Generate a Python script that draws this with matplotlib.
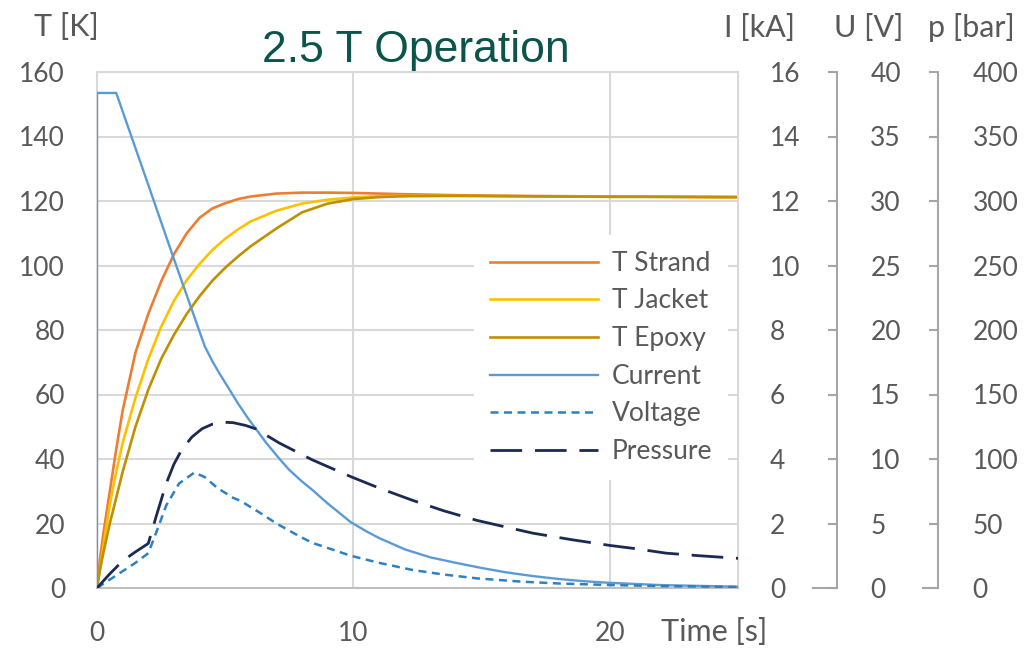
import matplotlib.pyplot as plt
from matplotlib.lines import Line2D

# 时间轴 [s]
t_temp = [0, 0.1, 0.25, 0.5, 0.75, 1.0, 1.5, 2.0, 2.5, 3.0, 3.5, 4.0, 4.5, 5.0,
          5.5, 6.0, 7.0, 8.0, 9.0, 10, 11, 12, 14, 16, 18, 20, 22, 25]
# 温度 [K]
T_strand = [0, 8, 17, 30, 43, 55, 73, 85, 95, 103.5, 110, 114.8, 117.7, 119.3,
            120.6, 121.4, 122.3, 122.6, 122.6, 122.5, 122.3, 122.1, 121.8, 121.6,
            121.5, 121.4, 121.3, 121.2]
T_jacket = [0, 5, 13, 26, 36, 45, 59, 71, 81, 89, 95.5, 100.5, 104.8, 108.3,
            111.2, 113.7, 117, 119.2, 120.4, 121.1, 121.5, 121.6, 121.6, 121.5,
            121.4, 121.3, 121.3, 121.2]
T_epoxy = [0, 5, 11, 20, 28, 36, 50, 61.5, 71, 78.5, 85, 90.5, 95.3, 99.3,
           102.8, 106, 111.5, 116.5, 119.2, 120.6, 121.2, 121.5, 121.6, 121.5,
           121.4, 121.3, 121.3, 121.2]

# 电流 [kA]
t_current = [0, 0, 0.75, 2.0, 3.0, 3.6, 4.2, 4.5, 4.8, 5.1, 5.5, 5.9, 6.2, 6.6,
             7.1, 7.5, 8.0, 8.4, 9.0, 9.9, 10.5, 11, 12, 13, 14, 15, 16, 17, 18,
             19, 20, 22, 25]
current = [0, 15.35, 15.35, 12.5, 10.2, 8.85, 7.5, 7.03, 6.62, 6.24, 5.72, 5.25,
           4.93, 4.5, 4.02, 3.66, 3.3, 3.04, 2.62, 2.04, 1.76, 1.55, 1.2, 0.95,
           0.78, 0.62, 0.48, 0.37, 0.28, 0.21, 0.16, 0.09, 0.04]

# 电压 [V]
t_volt = [0, 0.5, 1.0, 1.5, 2.0, 2.3, 2.7, 3.2, 3.8, 4.2, 4.7, 5.3, 5.6, 6.3,
          7.0, 7.9, 8.4, 9.9, 11, 12.3, 13.5, 14.8, 16.5, 18, 20, 22, 25]
voltage = [0, 0.65, 1.3, 1.95, 2.7, 4.25, 6.4, 8.1, 8.95, 8.6, 7.75, 7.0, 6.75,
           5.9, 5.0, 4.0, 3.5, 2.5, 1.95, 1.4, 1.05, 0.75, 0.5, 0.35, 0.23, 0.15,
           0.08]

# 压力 [bar]
t_press = [0, 0.5, 1.0, 1.5, 2.0, 2.3, 2.7, 3.0, 3.3, 3.7, 4.1, 4.5, 4.9, 5.3,
           5.8, 6.2, 7.1, 8.4, 9.9, 11, 12.3, 13.5, 14.8, 16, 17, 18.5, 20, 21,
           22.2, 23.5, 25]
pressure = [0, 11, 21, 28, 34.5, 55, 81, 96, 107, 117, 123.5, 127, 128.5, 128.2,
            126, 123.3, 112.5, 99.3, 86.3, 77.5, 68, 60, 52.5, 47, 42.5, 37.5,
            33, 30.5, 27, 25, 23]

plt.rcParams['font.family'] = ['Lato', 'DejaVu Sans']
grey = '#595959'
fs = 19

fig = plt.figure(figsize=(10.3, 6.48), dpi=100)
ax = fig.add_axes([97 / 1030, 60 / 648, 641 / 1030, 516 / 648])

ax.plot(t_temp, T_strand, color='#ED7D31', lw=1.9, label='T Strand')
ax.plot(t_temp, T_jacket, color='#FFC000', lw=1.9, label='T Jacket')
ax.plot(t_temp, T_epoxy, color='#BF9000', lw=1.9, label='T Epoxy')

ax.set_xlim(0, 25)
ax.set_ylim(0, 160)
ax.set_xticks([0, 10, 20])
ax.set_yticks(range(0, 161, 20))
ax.grid(True, color='#d9d9d9', lw=1.5)
ax.set_axisbelow(True)
ax.tick_params(axis='both', length=0, labelsize=fs, labelcolor=grey)
ax.tick_params(axis='y', pad=23)
ax.tick_params(axis='x', pad=24)
for s in ['top', 'right', 'left']:
    ax.spines[s].set_color('#d9d9d9')
    ax.spines[s].set_linewidth(1.5)
ax.spines['bottom'].set_color('#bfbfbf')
ax.spines['bottom'].set_linewidth(1.5)

# 右侧三个副轴
ax_i = ax.twinx()
ax_u = ax.twinx()
ax_p = ax.twinx()
for a in (ax_i, ax_u, ax_p):
    for s in ['top', 'left', 'bottom']:
        a.spines[s].set_visible(False)
ax_i.spines['right'].set_visible(False)

ax_i.plot(t_current, current, color='#5B9BD5', lw=1.7, label='Current')
ax_i.set_ylim(0, 16)
ax_i.set_yticks(range(0, 17, 2))
ax_i.tick_params(axis='y', length=0, pad=23, labelsize=fs, labelcolor=grey)

ax_u.plot(t_volt, voltage, color='#2E80C0', lw=1.8, dashes=(3.2, 2.2),
          label='Voltage')
ax_u.set_ylim(0, 40)
ax_u.set_yticks(range(0, 41, 5))
ax_u.spines['right'].set_position(('axes', (837 - 97) / 641))

ax_p.plot(t_press, pressure, color='#1B2A55', lw=2.0, dashes=(11.4, 4.6),
          label='Pressure')
ax_p.set_ylim(0, 400)
ax_p.set_yticks(range(0, 401, 50))
ax_p.spines['right'].set_position(('axes', (938 - 97) / 641))

for a, pad in ((ax_u, 24), (ax_p, 25)):
    a.spines['right'].set_color('#a6a6a6')
    a.spines['right'].set_linewidth(1.5)
    a.tick_params(axis='y', direction='in', length=6.5, width=1.5,
                  color='#a6a6a6', pad=pad, labelsize=fs, labelcolor=grey)

# 副轴底部的短横线
for x0, x1 in ((813, 837), (923, 938)):
    fig.add_artist(Line2D([x0 / 1030, x1 / 1030], [60 / 648, 60 / 648],
                          color='#a6a6a6', lw=1.5))

# 轴标题
labels = [('T [K]', 66, 27), ('I [kA]', 760, 28), ('U [V]', 869, 28),
          ('p [bar]', 971, 28), ('Time [s]', 714, 632)]
for txt, x, y in labels:
    fig.text(x / 1030, 1 - y / 648, txt, ha='center', va='center',
             fontsize=22, color=grey)

fig.text(416 / 1030, 1 - 62 / 648, '2.5 T Operation', ha='center',
         va='baseline', fontsize=32, family='Liberation Sans', color='#0b544a')

handles = []
for a in (ax, ax_i, ax_u, ax_p):
    h, _ = a.get_legend_handles_labels()
    handles += h
leg = ax_p.legend(handles=handles, loc='upper left',
                  bbox_to_anchor=(474 / 1030, 1 - 235 / 648),
                  bbox_transform=fig.transFigure, borderaxespad=0,
                  borderpad=0.6, fontsize=fs, handlelength=4.1,
                  handletextpad=0.53, labelspacing=0.48, frameon=True,
                  fancybox=False, framealpha=1, facecolor='white',
                  edgecolor='none')
for t in leg.get_texts():
    t.set_color(grey)

fig.savefig('out.png', dpi=100)
